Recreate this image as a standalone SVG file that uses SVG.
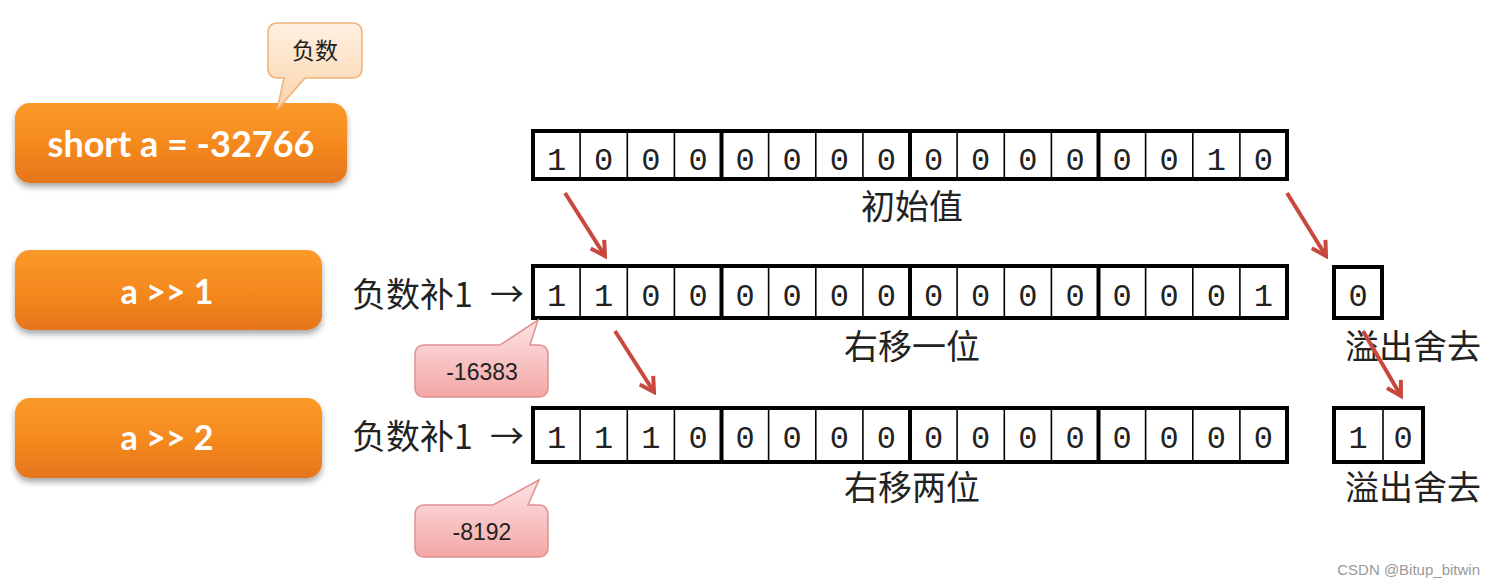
<svg xmlns="http://www.w3.org/2000/svg" width="1495" height="587" viewBox="0 0 1495 587">
<defs>
<linearGradient id="og" x1="0" y1="0" x2="0" y2="1">
<stop offset="0" stop-color="#fb9a2a"/>
<stop offset="0.5" stop-color="#f58a1f"/>
<stop offset="1" stop-color="#e6751a"/>
</linearGradient>
<linearGradient id="pg" x1="0" y1="0" x2="0" y2="1">
<stop offset="0" stop-color="#fff0e2"/>
<stop offset="1" stop-color="#fbd3a8"/>
</linearGradient>
<linearGradient id="rg" x1="0" y1="0" x2="0" y2="1">
<stop offset="0" stop-color="#fde4e4"/>
<stop offset="1" stop-color="#f4a7a7"/>
</linearGradient>
<filter id="sh" x="-10%" y="-20%" width="120%" height="150%">
<feGaussianBlur in="SourceAlpha" stdDeviation="3"/>
<feOffset dx="0" dy="4" result="b"/>
<feComponentTransfer><feFuncA type="linear" slope="0.35"/></feComponentTransfer>
<feMerge><feMergeNode/><feMergeNode in="SourceGraphic"/></feMerge>
</filter>
<marker id="ah" viewBox="0 0 20 20" refX="17" refY="10" markerWidth="20" markerHeight="20" orient="auto" markerUnits="userSpaceOnUse">
<path d="M3,2 L17,10 L3,18" fill="none" stroke="#c8483e" stroke-width="4" stroke-linejoin="miter" stroke-linecap="butt"/>
</marker>
</defs>
<style>
.btn{fill:url(#og);}
.bt{font-family:Lato,"Open Sans","Liberation Sans",sans-serif;font-weight:bold;fill:#ffffff;text-anchor:middle;}
.outer{fill:none;stroke:#000;stroke-width:4;}
.thick{stroke:#000;stroke-width:4;}
.dig{font-family:"Liberation Mono","DejaVu Sans Mono",monospace;font-size:32px;fill:#222;text-anchor:middle;}
.cjk{font-family:"Noto Sans CJK SC",sans-serif;font-size:34px;fill:#222;}
.ca{font-family:"Liberation Sans","Noto Sans CJK SC",sans-serif;font-size:23px;fill:#222;text-anchor:middle;}
.ar{stroke:#c8483e;stroke-width:4;fill:none;marker-end:url(#ah);}
</style>
<rect width="1495" height="587" fill="#ffffff"/>

<g id="btn-short">
<rect class="btn" x="15" y="103" width="332" height="80" rx="15" filter="url(#sh)"/>
<text class="bt" x="181" y="157" font-size="36">short a = -32766</text>
</g>
<g id="btn-a1">
<rect class="btn" x="15" y="250" width="307" height="80" rx="15" filter="url(#sh)"/>
<text class="bt" x="167" y="304" font-size="34">a &gt;&gt; 1</text>
</g>
<g id="btn-a2">
<rect class="btn" x="15" y="398" width="307" height="80" rx="15" filter="url(#sh)"/>
<text class="bt" x="167" y="450" font-size="34">a &gt;&gt; 2</text>
</g>

<g id="callout-neg">
<path d="M278,23 H352 Q362,23 362,33 V68 Q362,78 352,78 H305 L277,110 L284,78 H278 Q268,78 268,68 V33 Q268,23 278,23 Z" fill="url(#pg)" stroke="#f0b27a" stroke-width="1.5"/>
<text class="ca" x="315" y="59" font-size="24">负数</text>
</g>

<g id="row-init">
<rect x="533" y="131" width="754" height="48" fill="#fff"/>
<g stroke="#000" stroke-width="1.6">
<line x1="580.1" y1="131" x2="580.1" y2="179"/><line x1="627.3" y1="131" x2="627.3" y2="179"/><line x1="674.4" y1="131" x2="674.4" y2="179"/>
<line x1="768.6" y1="131" x2="768.6" y2="179"/><line x1="815.8" y1="131" x2="815.8" y2="179"/><line x1="862.9" y1="131" x2="862.9" y2="179"/>
<line x1="957.1" y1="131" x2="957.1" y2="179"/><line x1="1004.3" y1="131" x2="1004.3" y2="179"/><line x1="1051.4" y1="131" x2="1051.4" y2="179"/>
<line x1="1145.6" y1="131" x2="1145.6" y2="179"/><line x1="1192.8" y1="131" x2="1192.8" y2="179"/><line x1="1239.9" y1="131" x2="1239.9" y2="179"/>
</g>
<g class="thick"><line x1="721.5" y1="131" x2="721.5" y2="179"/><line x1="910" y1="131" x2="910" y2="179"/><line x1="1098.5" y1="131" x2="1098.5" y2="179"/></g>
<rect class="outer" x="533" y="131" width="754" height="48"/>
<text class="dig" y="170"><tspan x="556.6">1</tspan><tspan x="603.7">0</tspan><tspan x="650.8">0</tspan><tspan x="698">0</tspan><tspan x="745.1">0</tspan><tspan x="792.2">0</tspan><tspan x="839.3">0</tspan><tspan x="886.4">0</tspan><tspan x="933.6">0</tspan><tspan x="980.7">0</tspan><tspan x="1027.8">0</tspan><tspan x="1075">0</tspan><tspan x="1122.1">0</tspan><tspan x="1169.2">0</tspan><tspan x="1216.3">1</tspan><tspan x="1263.4">0</tspan></text>
<text class="cjk" x="912" y="219" text-anchor="middle">初始值</text>
</g>

<g id="row-shift1">
<text class="cjk" y="307"><tspan x="352">负数补1</tspan><tspan x="490">→</tspan></text>
<rect x="533" y="266" width="754" height="52" fill="#fff"/>
<g stroke="#000" stroke-width="1.6">
<line x1="580.1" y1="266" x2="580.1" y2="318"/><line x1="627.3" y1="266" x2="627.3" y2="318"/><line x1="674.4" y1="266" x2="674.4" y2="318"/>
<line x1="768.6" y1="266" x2="768.6" y2="318"/><line x1="815.8" y1="266" x2="815.8" y2="318"/><line x1="862.9" y1="266" x2="862.9" y2="318"/>
<line x1="957.1" y1="266" x2="957.1" y2="318"/><line x1="1004.3" y1="266" x2="1004.3" y2="318"/><line x1="1051.4" y1="266" x2="1051.4" y2="318"/>
<line x1="1145.6" y1="266" x2="1145.6" y2="318"/><line x1="1192.8" y1="266" x2="1192.8" y2="318"/><line x1="1239.9" y1="266" x2="1239.9" y2="318"/>
</g>
<g class="thick"><line x1="721.5" y1="266" x2="721.5" y2="318"/><line x1="910" y1="266" x2="910" y2="318"/><line x1="1098.5" y1="266" x2="1098.5" y2="318"/></g>
<rect class="outer" x="533" y="266" width="754" height="52"/>
<text class="dig" y="306"><tspan x="556.6">1</tspan><tspan x="603.7">1</tspan><tspan x="650.8">0</tspan><tspan x="698">0</tspan><tspan x="745.1">0</tspan><tspan x="792.2">0</tspan><tspan x="839.3">0</tspan><tspan x="886.4">0</tspan><tspan x="933.6">0</tspan><tspan x="980.7">0</tspan><tspan x="1027.8">0</tspan><tspan x="1075">0</tspan><tspan x="1122.1">0</tspan><tspan x="1169.2">0</tspan><tspan x="1216.3">0</tspan><tspan x="1263.4">1</tspan></text>
<text class="cjk" x="912" y="359" text-anchor="middle">右移一位</text>
</g>

<g id="overflow1">
<rect class="outer" x="1334" y="267" width="48" height="51" fill="#fff"/>
<text class="dig" x="1358" y="306">0</text>
<text class="cjk" x="1413" y="359" text-anchor="middle">溢出舍去</text>
</g>

<g id="callout-16383">
<path d="M425,345 H500 L538,320 L530,345 H538 Q548,345 548,355 V387 Q548,397 538,397 H425 Q415,397 415,387 V355 Q415,345 425,345 Z" fill="url(#rg)" stroke="#e09090" stroke-width="1.5"/>
<text class="ca" x="482" y="380">-16383</text>
</g>

<g id="row-shift2">
<text class="cjk" y="449"><tspan x="352">负数补1</tspan><tspan x="490">→</tspan></text>
<rect x="533" y="408" width="754" height="54" fill="#fff"/>
<g stroke="#000" stroke-width="1.6">
<line x1="580.1" y1="408" x2="580.1" y2="462"/><line x1="627.3" y1="408" x2="627.3" y2="462"/><line x1="674.4" y1="408" x2="674.4" y2="462"/>
<line x1="768.6" y1="408" x2="768.6" y2="462"/><line x1="815.8" y1="408" x2="815.8" y2="462"/><line x1="862.9" y1="408" x2="862.9" y2="462"/>
<line x1="957.1" y1="408" x2="957.1" y2="462"/><line x1="1004.3" y1="408" x2="1004.3" y2="462"/><line x1="1051.4" y1="408" x2="1051.4" y2="462"/>
<line x1="1145.6" y1="408" x2="1145.6" y2="462"/><line x1="1192.8" y1="408" x2="1192.8" y2="462"/><line x1="1239.9" y1="408" x2="1239.9" y2="462"/>
</g>
<g class="thick"><line x1="721.5" y1="408" x2="721.5" y2="462"/><line x1="910" y1="408" x2="910" y2="462"/><line x1="1098.5" y1="408" x2="1098.5" y2="462"/></g>
<rect class="outer" x="533" y="408" width="754" height="54"/>
<text class="dig" y="448"><tspan x="556.6">1</tspan><tspan x="603.7">1</tspan><tspan x="650.8">1</tspan><tspan x="698">0</tspan><tspan x="745.1">0</tspan><tspan x="792.2">0</tspan><tspan x="839.3">0</tspan><tspan x="886.4">0</tspan><tspan x="933.6">0</tspan><tspan x="980.7">0</tspan><tspan x="1027.8">0</tspan><tspan x="1075">0</tspan><tspan x="1122.1">0</tspan><tspan x="1169.2">0</tspan><tspan x="1216.3">0</tspan><tspan x="1263.4">0</tspan></text>
<text class="cjk" x="912" y="500" text-anchor="middle">右移两位</text>
</g>

<g id="overflow2">
<rect x="1334" y="408" width="89" height="54" fill="#fff"/>
<line x1="1383" y1="408" x2="1383" y2="462" stroke="#000" stroke-width="1.6"/>
<rect class="outer" x="1334" y="408" width="89" height="54"/>
<text class="dig" y="448"><tspan x="1358">1</tspan><tspan x="1403">0</tspan></text>
<text class="cjk" x="1413" y="500" text-anchor="middle">溢出舍去</text>
</g>

<g id="callout-8192">
<path d="M425,505 H493 L539,480 L528,505 H538 Q548,505 548,515 V547 Q548,557 538,557 H425 Q415,557 415,547 V515 Q415,505 425,505 Z" fill="url(#rg)" stroke="#e09090" stroke-width="1.5"/>
<text class="ca" x="482" y="540">-8192</text>
</g>

<g id="connectors">
<line class="ar" x1="565" y1="193" x2="605" y2="256"/>
<line class="ar" x1="615" y1="331" x2="654" y2="392"/>
<line class="ar" x1="1287" y1="193" x2="1326" y2="256"/>
<line class="ar" x1="1363" y1="331" x2="1401" y2="396"/>
</g>

<text x="1480" y="575" text-anchor="end" font-family="'Liberation Sans',sans-serif" font-size="15" fill="#999">CSDN @Bitup_bitwin</text>
</svg>
